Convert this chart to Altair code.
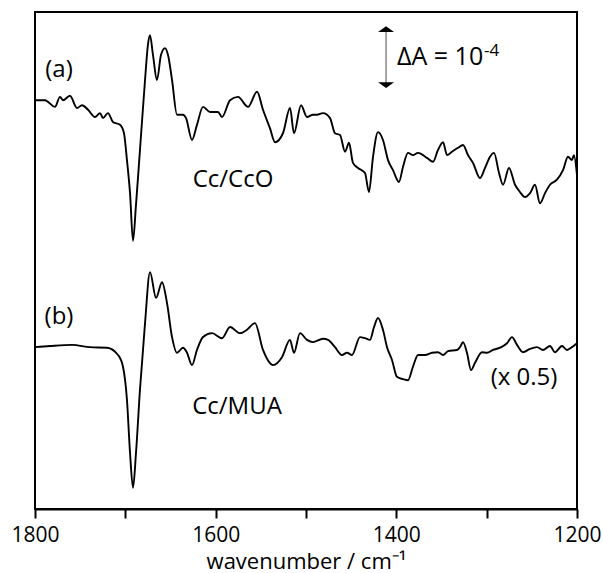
import altair as alt
import pandas as pd

# Trace (a) Cc/CcO : wavenumber (cm-1) and absorbance (units of 1e-5, offset)
a_wn = [1800, 1794.5, 1788.9, 1785.6, 1777.9, 1772.3, 1769.0, 1761.3, 1753.5, 1748.0,
        1741.3, 1733.6, 1728.0, 1724.7, 1719.2, 1713.7, 1705.9, 1701.5, 1698.2, 1694.8,
        1691.5, 1688.2, 1683.8, 1678.2, 1675.0, 1672.7, 1669.4, 1665.0, 1660.5, 1656.1,
        1652.8, 1648.3, 1642.8, 1636.2, 1632.8, 1626.2, 1620.7, 1614.0, 1606.3, 1597.4,
        1593.0, 1584.1, 1575.3, 1564.2, 1554.2, 1547.6, 1539.9, 1534.3, 1525.5, 1517.7,
        1513.3, 1505.5, 1498.9, 1492.3, 1487.8, 1481.2, 1473.4, 1467.9, 1462.4, 1456.8,
        1452.4, 1448.0, 1442.4, 1434.7, 1430.3, 1425.8, 1420.3, 1414.8, 1409.2, 1403.7,
        1397.1, 1392.6, 1387.1, 1381.6, 1376.0, 1366.1, 1359.4, 1353.9, 1348.3, 1343.9,
        1338.4, 1331.7, 1326.2, 1320.7, 1315.1, 1307.4, 1301.8, 1296.3, 1291.9, 1286.3,
        1281.9, 1275.3, 1268.6, 1263.1, 1257.6, 1252.0, 1246.5, 1241.0, 1235.4, 1229.9,
        1222.2, 1215.5, 1210.0, 1205.6, 1203.4, 1200.0]
a_val = [73.0, 73.0, 73.0, 72.7, 71.8, 73.6, 73.0, 73.8, 71.6, 72.1,
         71.3, 70.0, 70.7, 69.8, 70.7, 69.1, 68.6, 67.1, 62.3, 56.4,
         47.9, 54.3, 64.1, 76.6, 82.9, 84.6, 81.1, 76.6, 81.1, 82.3,
         81.1, 76.6, 70.4, 70.4, 69.8, 65.9, 68.6, 71.8, 70.9, 70.9,
         70.0, 73.0, 73.6, 71.8, 74.5, 71.3, 68.0, 65.5, 67.1, 71.6,
         67.1, 72.1, 70.0, 70.4, 70.4, 70.7, 69.8, 67.1, 66.8, 63.8,
         65.4, 61.8, 60.9, 60.0, 56.6, 62.9, 67.3, 65.9, 62.3, 60.5,
         58.4, 61.1, 63.6, 63.2, 63.6, 62.7, 62.0, 64.1, 65.5, 63.2,
         63.8, 64.5, 65.0, 63.2, 61.8, 59.1, 60.9, 62.9, 63.6, 60.0,
         57.9, 60.9, 57.9, 56.6, 55.7, 56.4, 57.9, 54.6, 56.4, 57.9,
         58.8, 60.5, 62.9, 62.3, 63.2, 59.6]

# Trace (b) Cc/MUA (x 0.5)
b_wn = [1800, 1783.4, 1759.0, 1739.1, 1720.3, 1708.1, 1702.6, 1698.2, 1694.8, 1691.5,
        1688.2, 1683.8, 1678.2, 1672.7, 1666.0, 1659.4, 1653.9, 1648.3, 1642.8, 1636.2,
        1631.7, 1626.2, 1620.7, 1614.0, 1604.1, 1593.0, 1584.1, 1573.1, 1565.3, 1556.5,
        1547.6, 1536.5, 1526.6, 1517.7, 1513.3, 1506.7, 1498.9, 1492.3, 1481.2, 1475.6,
        1467.9, 1460.2, 1454.6, 1449.1, 1440.2, 1434.7, 1429.2, 1424.7, 1420.3, 1414.8,
        1410.3, 1404.8, 1399.3, 1392.6, 1387.1, 1381.6, 1376.0, 1368.3, 1360.5, 1353.9,
        1348.3, 1342.8, 1332.8, 1329.5, 1326.2, 1321.8, 1317.3, 1312.9, 1305.2, 1299.6,
        1293.0, 1285.2, 1277.5, 1272.0, 1266.4, 1259.8, 1252.0, 1244.3, 1237.7, 1229.9,
        1224.4, 1216.6, 1211.1, 1205.6, 1200.0]
b_val = [28.9, 29.1, 29.3, 28.9, 28.8, 27.5, 25.4, 19.5, 10.0, 3.8,
         10.0, 21.3, 33.2, 42.3, 37.7, 40.5, 36.8, 30.7, 27.9, 28.8,
         27.9, 25.7, 28.4, 30.7, 31.4, 30.5, 32.5, 31.4, 32.0, 33.2,
         28.4, 25.7, 27.1, 30.2, 27.9, 31.4, 30.2, 29.8, 30.4, 30.2,
         28.9, 27.5, 27.9, 27.5, 30.7, 30.5, 30.2, 32.5, 34.1, 32.0,
         28.9, 26.6, 23.6, 23.2, 23.0, 25.4, 27.5, 27.5, 27.9, 28.0,
         27.5, 28.2, 28.4, 28.9, 29.8, 27.9, 24.8, 26.1, 28.0, 27.9,
         28.4, 28.8, 29.6, 30.7, 29.3, 28.0, 28.6, 28.9, 28.4, 29.1,
         28.0, 29.1, 28.4, 28.9, 29.6]

# Annotation labels (positions in data units)
lab_text = ["(a)", "(b)", "Cc/CcO", "Cc/MUA", "(x 0.5)"]
lab_wn = [1773.4, 1773.4, 1580.8, 1576.4, 1258.7]
lab_val = [78.4, 34.3, 58.8, 18.2, 23.4]

# Scale bar: delta A = 1e-4 (10 units)
bar_wn = [1411.4]
bar_lo = [75.7]
bar_hi = [85.7]
bar_text = "\u0394A = 10"
bar_sup = "-4"

df = pd.concat([
    pd.DataFrame({"wn": a_wn, "val": a_val, "s": "a"}),
    pd.DataFrame({"wn": b_wn, "val": b_val, "s": "b"}),
])
labels = pd.DataFrame({"t": lab_text, "wn": lab_wn, "val": lab_val})
bar = pd.DataFrame({"wn": bar_wn, "lo": bar_lo, "hi": bar_hi})

FONT = "Open Sans"
xscale = alt.Scale(domain=[1200, 1800], reverse=True, nice=False, zero=False)
yscale = alt.Scale(domain=[0, 88.75], nice=False, zero=False)

xaxis = alt.Axis(
    values=[1800, 1700, 1600, 1500, 1400, 1300, 1200],
    labelExpr="datum.value % 200 == 0 ? datum.value : ''",
    tickSize=9, tickWidth=2, tickColor="black",
    domainWidth=2, domainColor="black",
    labelFontSize=21, labelColor="black", labelFont=FONT, labelPadding=6,
    labelFlush=False, grid=False,
    title="wavenumber / cm\u207b\u00b9", titleFont=FONT, titleFontSize=22,
    titleFontWeight="normal", titleColor="black",
    titleY=59, titleBaseline="alphabetic",
)

lines = alt.Chart(df).mark_line(interpolate="monotone", color="black", strokeWidth=1.9).encode(
    x=alt.X("wn:Q", scale=xscale, axis=xaxis),
    y=alt.Y("val:Q", scale=yscale, axis=None),
    detail="s:N",
    order=alt.Order("wn:Q", sort="descending"),
)

text = alt.Chart(labels).mark_text(font=FONT, fontSize=24, color="black").encode(
    x=alt.X("wn:Q", scale=xscale),
    y=alt.Y("val:Q", scale=yscale),
    text="t:N",
)

rule = alt.Chart(bar).mark_rule(color="#888888", strokeWidth=1.5).encode(
    x=alt.X("wn:Q", scale=xscale),
    y=alt.Y("lo:Q", scale=yscale),
    y2="hi:Q",
)
heads_up = alt.Chart(bar).mark_point(
    shape="M -1 0.35 L 1 0.35 L 0 -0.35 Z", size=256, filled=True, color="black", opacity=1
).encode(x=alt.X("wn:Q", scale=xscale), y=alt.Y("hi:Q", scale=yscale))
heads_dn = alt.Chart(bar).mark_point(
    shape="M -1 -0.35 L 1 -0.35 L 0 0.35 Z", size=256, filled=True, color="black", opacity=1
).encode(x=alt.X("wn:Q", scale=xscale), y=alt.Y("lo:Q", scale=yscale))

bar_label = alt.Chart(bar).mark_text(
    font=FONT, fontSize=25, color="black", align="left", dx=11, dy=0
).encode(x=alt.X("wn:Q", scale=xscale), y=alt.Y("mid:Q", scale=yscale), text=alt.value(bar_text)
).transform_calculate(mid="(datum.lo + datum.hi) / 2")
bar_sup_t = alt.Chart(bar).mark_text(
    font=FONT, fontSize=17, color="black", align="left", dx=98, dy=-6
).encode(x=alt.X("wn:Q", scale=xscale), y=alt.Y("mid:Q", scale=yscale), text=alt.value(bar_sup)
).transform_calculate(mid="(datum.lo + datum.hi) / 2")

chart = alt.layer(lines, text, rule, heads_up, heads_dn, bar_label, bar_sup_t).properties(
    width=542, height=497,
    autosize=alt.AutoSizeParams(type="none"),
    padding={"left": 35, "top": 12, "right": 26, "bottom": 64},
    background="white",
).configure_view(stroke="black", strokeWidth=2)

chart.save("out.html", embed_options={"renderer": "svg", "actions": False})
